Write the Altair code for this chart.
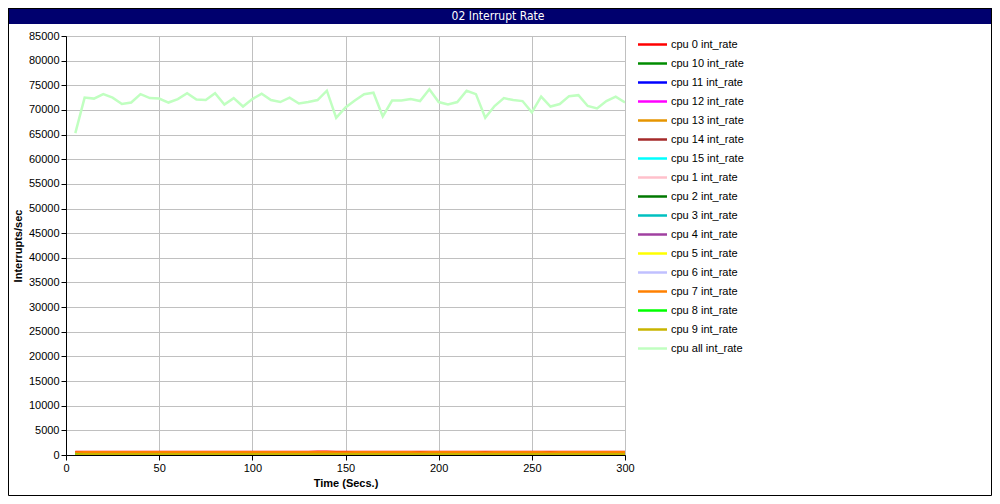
import altair as alt
import pandas as pd

times = [5, 10, 15, 20, 25, 30, 35, 40, 45, 50, 55, 60, 65, 70, 75, 80, 85, 90, 95, 100,
         105, 110, 115, 120, 125, 130, 135, 140, 145, 150, 155, 160, 165, 170, 175, 180, 185, 190, 195, 200,
         205, 210, 215, 220, 225, 230, 235, 240, 245, 250, 255, 260, 265, 270, 275, 280, 285, 290, 295, 300]

cpu_all = [65300, 72500, 72300, 73200, 72500, 71200, 71500, 73200, 72400, 72300,
           71500, 72200, 73400, 72100, 72000, 73400, 71100, 72400, 70700, 72200,
           73300, 72000, 71600, 72500, 71300, 71600, 72000, 73900, 68400, 70500,
           71900, 73200, 73500, 68700, 71900, 71900, 72200, 71800, 74200, 71600,
           71100, 71600, 73900, 73200, 68400, 70800, 72400, 72000, 71800, 69500,
           72700, 70700, 71200, 72800, 73000, 70800, 70300, 71800, 72700, 71500]

cpu0 = [590, 620, 625, 618, 622, 620, 616, 621, 624, 619, 620, 622, 618, 621, 619, 623, 620, 618, 622, 620,
        621, 619, 623, 620, 618, 622, 636, 660, 602, 590, 588, 592, 590, 595, 591, 589, 593, 590, 592, 594,
        590, 591, 589, 593, 592, 590, 588, 591, 595, 592, 590, 593, 591, 589, 592, 594, 590, 591, 593, 592]
cpu10 = [300, 310, 305, 312, 308, 306, 311, 309, 304, 307, 310, 306, 309, 312, 305, 308, 311, 307, 306, 309,
         310, 308, 305, 311, 307, 309, 306, 312, 304, 308, 309, 306, 311, 307, 305, 310, 308, 306, 309, 311,
         307, 305, 310, 308, 306, 309, 311, 307, 305, 308, 310, 306, 309, 307, 311, 305, 308, 310, 306, 309]
cpu11 = [240, 252, 248, 255, 250, 247, 253, 249, 251, 246, 254, 250, 248, 252, 249, 255, 247, 251, 250, 253,
         248, 252, 249, 246, 254, 250, 251, 248, 253, 247, 250, 252, 249, 254, 248, 251, 250, 247, 253, 249,
         252, 248, 251, 250, 246, 254, 249, 252, 248, 250, 253, 247, 251, 249, 252, 250, 248, 254, 249, 251]
cpu12 = [215, 222, 219, 225, 221, 218, 224, 220, 223, 217, 222, 219, 225, 221, 218, 223, 220, 224, 219, 221,
         222, 218, 225, 220, 223, 219, 221, 224, 217, 222, 220, 223, 218, 221, 225, 219, 222, 220, 217, 224,
         221, 219, 223, 220, 222, 218, 224, 221, 219, 223, 220, 222, 218, 225, 221, 219, 223, 220, 222, 221]
cpu13 = [372, 381, 378, 385, 380, 376, 383, 379, 382, 377, 384, 380, 378, 382, 379, 385, 377, 381, 380, 383,
         378, 382, 379, 376, 384, 380, 381, 395, 374, 377, 380, 382, 379, 384, 378, 381, 380, 377, 383, 379,
         382, 378, 381, 380, 376, 384, 379, 382, 378, 380, 383, 377, 381, 379, 382, 380, 378, 384, 379, 381]
cpu14 = [425, 432, 429, 436, 431, 428, 434, 430, 433, 427, 435, 431, 429, 433, 430, 436, 428, 432, 431, 434,
         429, 433, 430, 427, 435, 431, 432, 448, 426, 428, 431, 433, 430, 435, 429, 432, 431, 428, 434, 430,
         433, 429, 432, 431, 427, 435, 430, 433, 429, 431, 434, 428, 432, 430, 433, 431, 429, 435, 430, 432]
cpu15 = [195, 203, 200, 206, 201, 198, 204, 200, 202, 197, 205, 201, 199, 203, 200, 206, 198, 202, 201, 204,
         199, 203, 200, 197, 205, 201, 202, 199, 204, 198, 201, 203, 200, 205, 199, 202, 201, 198, 204, 200,
         203, 199, 202, 201, 197, 205, 200, 203, 199, 201, 204, 198, 202, 200, 203, 201, 199, 205, 200, 202]
cpu1 = [342, 351, 348, 355, 350, 346, 353, 349, 352, 347, 354, 350, 348, 352, 349, 355, 347, 351, 350, 353,
        348, 352, 349, 346, 354, 350, 351, 360, 345, 347, 350, 352, 349, 354, 348, 351, 350, 347, 353, 349,
        352, 348, 351, 350, 346, 354, 349, 352, 348, 350, 353, 347, 351, 349, 352, 350, 348, 354, 349, 351]
cpu2 = [275, 283, 280, 286, 281, 278, 284, 280, 282, 277, 285, 281, 279, 283, 280, 286, 278, 282, 281, 284,
        279, 283, 280, 277, 285, 281, 282, 279, 284, 278, 281, 283, 280, 285, 279, 282, 281, 278, 284, 280,
        283, 279, 282, 281, 277, 285, 280, 283, 279, 281, 284, 278, 282, 280, 283, 281, 279, 285, 280, 282]
cpu3 = [176, 183, 180, 186, 181, 178, 184, 180, 182, 177, 185, 181, 179, 183, 180, 186, 178, 182, 181, 184,
        179, 183, 180, 177, 185, 181, 182, 179, 184, 178, 181, 183, 180, 185, 179, 182, 181, 178, 184, 180,
        183, 179, 182, 181, 177, 185, 180, 183, 179, 181, 184, 178, 182, 180, 183, 181, 179, 185, 180, 182]
cpu4 = [165, 173, 170, 176, 171, 168, 174, 170, 172, 167, 175, 171, 169, 173, 170, 176, 168, 172, 171, 174,
        169, 173, 170, 167, 175, 171, 172, 169, 174, 168, 171, 173, 170, 175, 169, 172, 171, 168, 174, 170,
        173, 169, 172, 171, 167, 175, 170, 173, 169, 171, 174, 168, 172, 170, 173, 171, 169, 175, 170, 172]
cpu5 = [155, 163, 160, 166, 161, 158, 164, 160, 162, 157, 165, 161, 159, 163, 160, 166, 158, 162, 161, 164,
        159, 163, 160, 157, 165, 161, 162, 159, 164, 158, 161, 163, 160, 165, 159, 162, 161, 158, 164, 160,
        163, 159, 162, 161, 157, 165, 160, 163, 159, 161, 164, 158, 162, 160, 163, 161, 159, 165, 160, 162]
cpu6 = [145, 153, 150, 156, 151, 148, 154, 150, 152, 147, 155, 151, 149, 153, 150, 156, 148, 152, 151, 154,
        149, 153, 150, 147, 155, 151, 152, 149, 154, 148, 151, 153, 150, 155, 149, 152, 151, 148, 154, 150,
        153, 149, 152, 151, 147, 155, 150, 153, 149, 151, 154, 148, 152, 150, 153, 151, 149, 155, 150, 152]
cpu7 = [528, 538, 535, 542, 537, 533, 540, 536, 539, 534, 541, 537, 535, 539, 536, 542, 534, 538, 537, 540,
        535, 539, 536, 533, 541, 537, 550, 572, 526, 532, 535, 537, 534, 539, 533, 536, 535, 532, 538, 534,
        537, 533, 536, 535, 531, 539, 534, 537, 533, 535, 538, 532, 536, 534, 537, 535, 533, 539, 534, 536]
cpu8 = [135, 143, 140, 146, 141, 138, 144, 140, 142, 137, 145, 141, 139, 143, 140, 146, 138, 142, 141, 144,
        139, 143, 140, 137, 145, 141, 142, 139, 144, 138, 141, 143, 140, 145, 139, 142, 141, 138, 144, 140,
        143, 139, 142, 141, 137, 145, 140, 143, 139, 141, 144, 138, 142, 140, 143, 141, 139, 145, 140, 142]
cpu9 = [125, 133, 130, 136, 131, 128, 134, 130, 132, 127, 135, 131, 129, 133, 130, 136, 128, 132, 131, 134,
        129, 133, 130, 127, 135, 131, 132, 129, 134, 128, 131, 133, 130, 135, 129, 132, 131, 128, 134, 130,
        133, 129, 132, 131, 127, 135, 130, 133, 129, 131, 134, 128, 132, 130, 133, 131, 129, 135, 130, 132]

series_names = ["cpu 0 int_rate", "cpu 10 int_rate", "cpu 11 int_rate", "cpu 12 int_rate",
                "cpu 13 int_rate", "cpu 14 int_rate", "cpu 15 int_rate", "cpu 1 int_rate",
                "cpu 2 int_rate", "cpu 3 int_rate", "cpu 4 int_rate", "cpu 5 int_rate",
                "cpu 6 int_rate", "cpu 7 int_rate", "cpu 8 int_rate", "cpu 9 int_rate",
                "cpu all int_rate"]
series_values = [cpu0, cpu10, cpu11, cpu12, cpu13, cpu14, cpu15, cpu1, cpu2, cpu3, cpu4,
                 cpu5, cpu6, cpu7, cpu8, cpu9, cpu_all]
series_colors = ["#ff0000", "#008c00", "#0000ff", "#ff00ff", "#e69500", "#a52a2a", "#00ffff",
                 "#ffc0cb", "#007800", "#00c0c0", "#a040a0", "#ffff00", "#c0c0ff", "#ff8000",
                 "#00ff00", "#c8b400", "#c0ffc0"]

x_ticks = [0, 50, 100, 150, 200, 250, 300]
y_ticks = list(range(0, 85001, 5000))

rows = []
for order, (name, vals) in enumerate(zip(series_names, series_values)):
    for t, v in zip(times, vals):
        rows.append({"time": t, "series": name, "value": v})
df = pd.DataFrame(rows)

legend_df = pd.DataFrame({"series": series_names, "idx": list(range(len(series_names)))})

FONT = "Liberation Sans"
W, H = 559, 419
PAD_L, PAD_T = 58, 28
TOTAL_W, TOTAL_H = 984, 488

color_scale = alt.Scale(domain=series_names, range=series_colors)

lines = alt.Chart(df).mark_line(strokeWidth=2.5, clip=True).encode(
    x=alt.X("time:Q", scale=alt.Scale(domain=[0, 300], nice=False),
            axis=alt.Axis(values=x_ticks, title="Time (Secs.)", format="d",
                          grid=True, gridColor="#c0c0c0", gridWidth=1,
                          domainColor="black", tickColor="black", tickSize=5,
                          labelFont=FONT, labelFontSize=11, labelColor="black", labelPadding=2,
                          titleFont=FONT, titleFontSize=11, titleFontWeight="bold",
                          titleColor="black", titlePadding=4, labelFlush=False)),
    y=alt.Y("value:Q", scale=alt.Scale(domain=[0, 85000], nice=False),
            axis=alt.Axis(values=y_ticks, title="Interrupts/sec", format="d",
                          grid=True, gridColor="#c0c0c0", gridWidth=1,
                          domainColor="black", tickColor="black", tickSize=5,
                          labelFont=FONT, labelFontSize=11, labelColor="black", labelPadding=2,
                          titleFont=FONT, titleFontSize=11, titleFontWeight="bold",
                          titleColor="black", titlePadding=5)),
    color=alt.Color("series:N", scale=color_scale, legend=None),
)

leg_y = alt.Y("idx:O", scale=alt.Scale(type="point", domain=list(range(len(series_names))),
                                         range=[8.5, 8.5 + 19 * (len(series_names) - 1)], padding=0),
              axis=None)

legend_rules = alt.Chart(legend_df).mark_rule(strokeWidth=2.5).encode(
    x=alt.value(572), x2=alt.value(601), y=leg_y,
    color=alt.Color("series:N", scale=color_scale, legend=None),
)
legend_text = alt.Chart(legend_df).mark_text(align="left", baseline="middle", font=FONT,
                                             fontSize=11, color="black").encode(
    x=alt.value(605), y=leg_y, text="series:N",
)

deco_df = pd.DataFrame({"a": [0]})
title_bar = alt.Chart(deco_df).mark_rect(color="#00006e").encode(
    x=alt.value(-PAD_L), x2=alt.value(TOTAL_W - PAD_L),
    y=alt.value(-PAD_T), y2=alt.value(-PAD_T + 16),
)
title_text = alt.Chart(deco_df).mark_text(
    align="center", baseline="middle", color="white", fontSize=12,
    font="Liberation Sans Narrow, DejaVu Sans Condensed, Liberation Sans",
).encode(
    x=alt.value(432), y=alt.value(-PAD_T + 8), text=alt.value("02 Interrupt Rate"),
)
border = alt.Chart(deco_df).mark_rect(fillOpacity=0, stroke="black", strokeWidth=1).encode(
    x=alt.value(-PAD_L + 0.5), x2=alt.value(TOTAL_W - PAD_L - 0.5),
    y=alt.value(-PAD_T + 0.5), y2=alt.value(TOTAL_H - PAD_T - 0.5),
)

chart = alt.layer(lines, legend_rules, legend_text, title_bar, title_text, border).resolve_scale(
    y="independent"
).properties(
    width=W, height=H,
    autosize=alt.AutoSizeParams(type="none"),
    padding={"left": PAD_L, "top": PAD_T, "right": TOTAL_W - PAD_L - W, "bottom": TOTAL_H - PAD_T - H},
    background="white",
).configure_view(stroke="black", strokeWidth=1)

chart.save("out.html", embed_options={"renderer": "svg", "actions": False})
